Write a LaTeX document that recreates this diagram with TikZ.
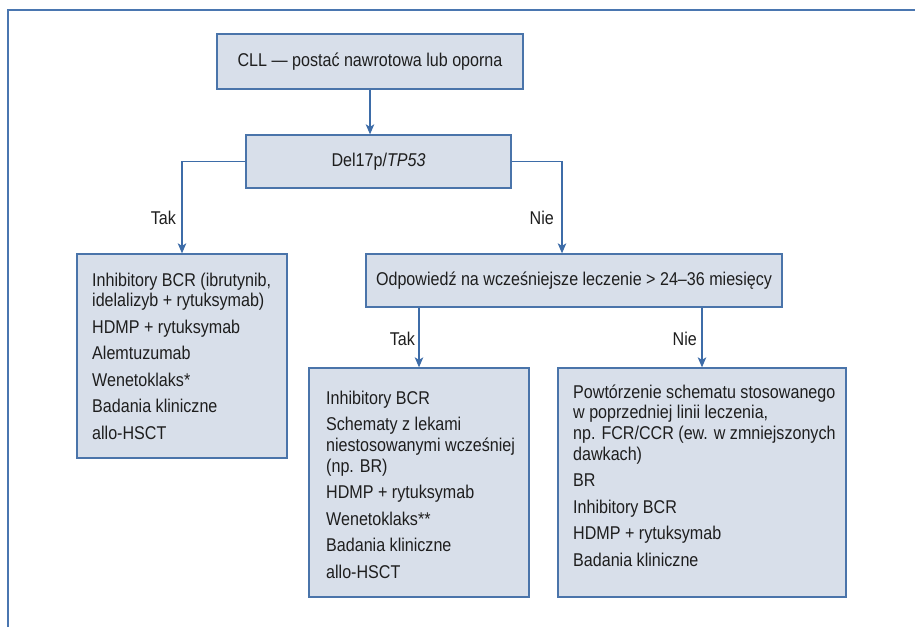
\documentclass[tikz,border=0pt]{standalone}
\usepackage{fontspec}
\setmainfont{Liberation Sans}[FakeStretch=0.87]
\usetikzlibrary{arrows.meta}
\definecolor{boxfill}{HTML}{D8DFEA}
\definecolor{boxline}{HTML}{4A74AA}
\definecolor{arrblue}{HTML}{3D6CA8}
\definecolor{framecol}{HTML}{4A76B0}
\definecolor{txt}{HTML}{1E1E1E}
\tikzset{
  box/.style={draw=boxline, fill=boxfill, line width=1.3pt, inner sep=0pt, text=txt,
    font=\fontsize{18.5}{20.7}\selectfont},
  boxtext/.style={anchor=north west, inner sep=0pt, align=left, text=txt,
    font=\fontsize{18.5}{20.7}\selectfont},
  lab/.style={inner sep=0pt, text=txt, font=\fontsize{18.5}{20.7}\selectfont},
  arr/.style={draw=arrblue, line width=1.3pt, -{Stealth[length=10pt,width=8.5pt,inset=2.5pt]}},
  framel/.style={draw=framecol, line width=2pt}
}
\newcommand{\gap}{\\[5.8pt]}
\begin{document}
\begin{tikzpicture}[x=1pt,y=-1pt]
\useasboundingbox (0,0) rectangle (915,627);
\draw[framel] (8,627) -- (8,10) -- (915,10);

\node[box, minimum width=306pt, minimum height=55pt] (cll) at (370,61.5) {CLL — postać nawrotowa lub oporna};
\node[box, minimum width=265pt, minimum height=53pt] (del) at (378.5,161.5) {Del17p/\textit{TP53}\hspace{20pt}};
\node[box, minimum width=210pt, minimum height=204pt] (boxL) at (182,356) {};
\node[box, minimum width=416pt, minimum height=53pt] (odp) at (574,280.5) {Odpowiedź na wcześniejsze leczenie > 24–36 miesięcy};
\node[box, minimum width=220pt, minimum height=229pt] (boxM) at (419,482.5) {};
\node[box, minimum width=288pt, minimum height=229pt] (boxR) at (702,482.5) {};

\node[boxtext] (tL) at (92,268) {\rule{0pt}{18pt}Inhibitory BCR (ibrutynib,\\idelalizyb + rytuksymab)\gap HDMP + rytuksymab\gap Alemtuzumab\gap Wenetoklaks*\gap Badania kliniczne\gap allo-HSCT};
\node[boxtext] (tM) at (326,386) {\rule{0pt}{18pt}Inhibitory BCR\gap Schematy z lekami\\niestosowanymi wcześniej\\(np. BR)\gap HDMP + rytuksymab\gap Wenetoklaks**\gap Badania kliniczne\gap allo-HSCT};
\node[boxtext] (tR) at (573,380) {\rule{0pt}{18pt}Powtórzenie schematu stosowanego\\w poprzedniej linii leczenia,\\np. FCR/CCR (ew. w zmniejszonych\\dawkach)\gap BR\gap Inhibitory BCR\gap HDMP + rytuksymab\gap Badania kliniczne};

\draw[arr] (cll.south) -- (cll.south |- del.north);
\draw[arr] (del.west) -| (boxL.north);
\draw[arr] (del.east) -| ([xshift=-12pt]odp.north);
\draw[arr] (odp.south -| boxM.north) -- (boxM.north);
\draw[arr] (odp.south -| boxR.north) -- (boxR.north);

\node[lab, anchor=east] (l1) at (176,218) {Tak};
\node[lab, anchor=east] (l2) at (554,218) {Nie};
\node[lab, anchor=east] (l3) at (415,339) {Tak};
\node[lab, anchor=east] (l4) at (697,339) {Nie};
\end{tikzpicture}
\end{document}
